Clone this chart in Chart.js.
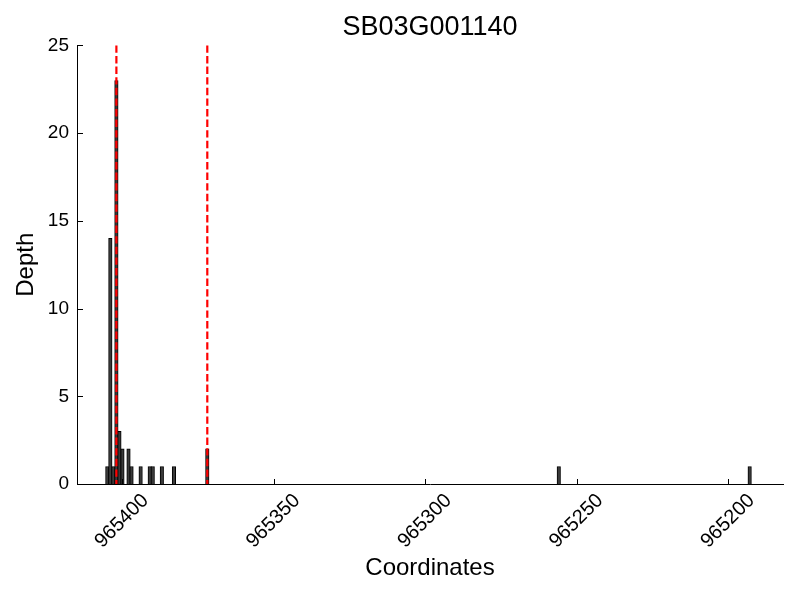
<!DOCTYPE html>
<html>
<head>
<meta charset="utf-8">
<script src="https://cdn.jsdelivr.net/npm/chart.js@4/dist/chart.umd.min.js"></script>
<style>
    body { margin: 0; background: #fff; }
    canvas { display: block; }
</style>
</head>
<body>
<canvas id="myChart" width="800" height="600"></canvas>
<script>
const coords = [965405, 965404, 965403, 965402, 965401, 965400, 965398, 965397, 965394, 965391, 965390, 965387, 965383, 965372, 965256, 965193]
const depth = [1, 14, 1, 23, 3, 2, 2, 1, 1, 1, 1, 1, 1, 2, 1, 1]
const markers = [965402, 965372]
const xTicks = [965200, 965250, 965300, 965350, 965400]
const yTicks = [0, 5, 10, 15, 20, 25]

Chart.defaults.font.family = "'Liberation Sans', Arial, sans-serif"
Chart.defaults.color = "#000"

let points = []
for (let i = 0; i < coords.length; i++) {
    points.push({ x: coords[i], y: depth[i] })
}

// inward tick marks + red dashed lines
const extras = {
    id: "extras",
    afterDatasetsDraw(chart) {
        const ctx = chart.ctx
        const xs = chart.scales.x
        const ys = chart.scales.y
        const area = chart.chartArea
        ctx.save()
        ctx.strokeStyle = "#000"
        ctx.lineWidth = 1
        ctx.beginPath()
        xTicks.forEach(v => {
            let px = Math.round(xs.getPixelForValue(v)) + 0.5
            ctx.moveTo(px, area.bottom)
            ctx.lineTo(px, area.bottom - 5)
        })
        yTicks.forEach(v => {
            let py = Math.round(ys.getPixelForValue(v)) + 0.5
            ctx.moveTo(area.left, py)
            ctx.lineTo(area.left + 6, py)
        })
        ctx.stroke()

        ctx.strokeStyle = "#ff0000"
        ctx.lineWidth = 2.2
        ctx.setLineDash([7.4, 3.2])
        markers.forEach(v => {
            let px = xs.getPixelForValue(v)
            ctx.beginPath()
            ctx.moveTo(px, area.top)
            ctx.lineTo(px, area.bottom)
            ctx.stroke()
        })
        ctx.restore()
    }
}

new Chart("myChart", {
    type: "bar",
    data: {
        datasets: [{
            data: points,
            backgroundColor: "#3a3a3a",
            borderColor: "#000",
            borderWidth: 1,
            barThickness: 3.5
        }]
    },
    options: {
        responsive: false,
        animation: false,
        layout: { padding: { left: 0, right: 17, top: 0, bottom: 0 } },
        plugins: {
            legend: { display: false },
            tooltip: { enabled: false },
            title: {
                display: true,
                fullSize: false,
                text: "SB03G001140",
                font: { size: 27, weight: "normal" },
                padding: { top: 11, bottom: 2 }
            }
        },
        scales: {
            x: {
                type: "linear",
                reverse: true,
                offset: false,
                min: 965182,
                max: 965415,
                afterBuildTicks: scale => { scale.ticks = xTicks.map(v => ({ value: v })) },
                afterFit: scale => { scale.height = 116 },
                grid: { display: false, drawTicks: false },
                border: { display: true, color: "#000", width: 1 },
                ticks: {
                    font: { size: 20 },
                    minRotation: 45,
                    maxRotation: 45,
                    labelOffset: 23,
                    padding: 5,
                    callback: v => String(v)
                },
                title: {
                    display: true,
                    text: "Coordinates",
                    font: { size: 24 },
                    padding: { top: 0, bottom: 17 }
                }
            },
            y: {
                min: 0,
                max: 25,
                afterBuildTicks: scale => { scale.ticks = yTicks.map(v => ({ value: v })) },
                afterFit: scale => { scale.width = 77 },
                grid: { display: false, drawTicks: false },
                border: { display: true, color: "#000", width: 1 },
                ticks: {
                    font: { size: 19 },
                    padding: 8
                },
                title: {
                    display: true,
                    text: "Depth",
                    font: { size: 24 },
                    padding: { top: 12, bottom: 0 }
                }
            }
        }
    },
    plugins: [extras]
})
</script>
</body>
</html>
